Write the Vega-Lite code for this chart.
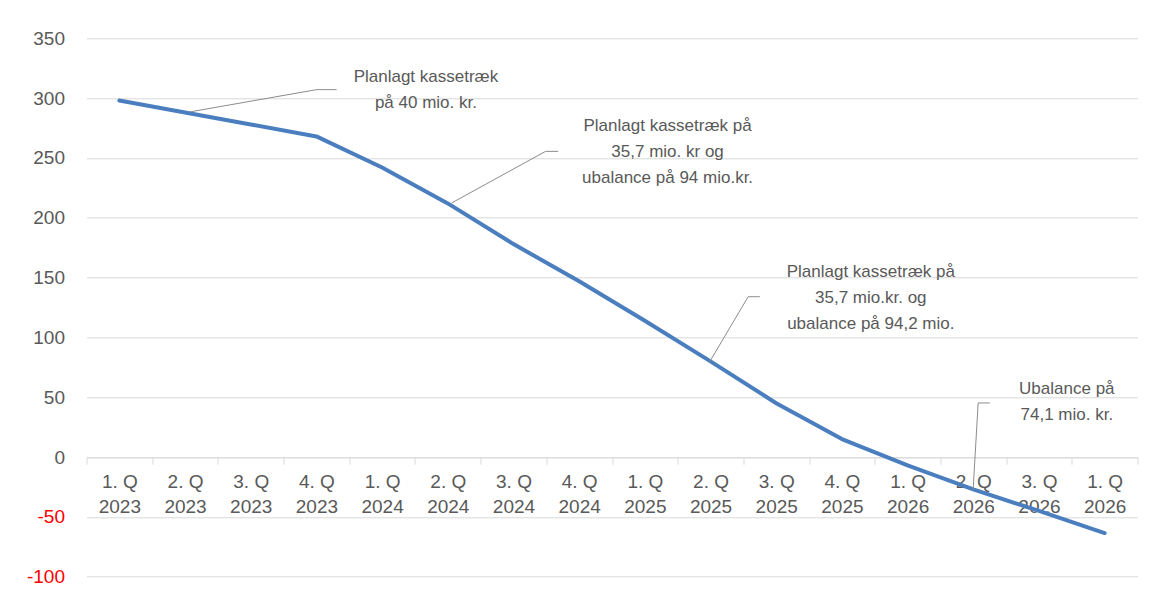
{
  "$schema": "https://vega.github.io/schema/vega-lite/v6.json",
  "autosize": "none",
  "width": 1051,
  "height": 538.4,
  "padding": {"left": 86.5, "top": 38.3, "right": 11.5, "bottom": 17.3},
  "background": "white",
  "config": {
    "view": {"stroke": null},
    "font": "Liberation Sans"
  },
  "datasets": {
    "series": [
      {"q": "1. Q|2023", "i": 0, "value": 298},
      {"q": "2. Q|2023", "i": 1, "value": 288},
      {"q": "3. Q|2023", "i": 2, "value": 278},
      {"q": "4. Q|2023", "i": 3, "value": 268},
      {"q": "1. Q|2024", "i": 4, "value": 242},
      {"q": "2. Q|2024", "i": 5, "value": 212},
      {"q": "3. Q|2024", "i": 6, "value": 178},
      {"q": "4. Q|2024", "i": 7, "value": 147},
      {"q": "1. Q|2025", "i": 8, "value": 114},
      {"q": "2. Q|2025", "i": 9, "value": 80},
      {"q": "3. Q|2025", "i": 10, "value": 45},
      {"q": "4. Q|2025", "i": 11, "value": 15},
      {"q": "1. Q|2026", "i": 12, "value": -7},
      {"q": "2. Q|2026", "i": 13, "value": -27},
      {"q": "3. Q|2026", "i": 14, "value": -45},
      {"q": "1. Q|2026 ", "i": 15, "value": -63.5}
    ],
    "leaders": [
      {"id": 1, "seq": 0, "u": 1.575, "v": 288.5},
      {"id": 1, "seq": 1, "u": 3.504, "v": 307.1},
      {"id": 1, "seq": 2, "u": 3.808, "v": 307.1},
      {"id": 2, "seq": 0, "u": 5.559, "v": 212.4},
      {"id": 2, "seq": 1, "u": 6.989, "v": 255.5},
      {"id": 2, "seq": 2, "u": 7.181, "v": 255.5},
      {"id": 3, "seq": 0, "u": 9.49, "v": 79.9},
      {"id": 3, "seq": 1, "u": 10.073, "v": 134.0},
      {"id": 3, "seq": 2, "u": 10.251, "v": 134.0},
      {"id": 4, "seq": 0, "u": 13.498, "v": -27.2},
      {"id": 4, "seq": 1, "u": 13.574, "v": 45.2},
      {"id": 4, "seq": 2, "u": 13.752, "v": 45.2}
    ],
    "notes": [
      {"u": 5.167, "v": 318.0, "text": ["Planlagt kassetræk", "på 40 mio. kr."]},
      {"u": 8.846, "v": 277.0, "text": ["Planlagt kassetræk på", "35,7 mio. kr og", "ubalance på 94 mio.kr."]},
      {"u": 11.94, "v": 154.5, "text": ["Planlagt kassetræk på", "35,7 mio.kr. og", "ubalance på 94,2 mio."]},
      {"u": 14.924, "v": 56.7, "text": ["Ubalance på", "74,1 mio. kr."]}
    ]
  },
  "layer": [
    {
      "data": {"name": "series"},
      "mark": {"type": "line", "color": "#4a7ebf", "strokeWidth": 4, "strokeCap": "round", "strokeJoin": "round"},
      "encoding": {
        "x": {
          "field": "q",
          "type": "ordinal",
          "sort": {"field": "i"},
          "bandPosition": 0.5,
          "scale": {"type": "band", "paddingInner": 0, "paddingOuter": 0},
          "axis": {
            "title": null,
            "orient": "bottom",
            "offset": -119.4,
            "tickBand": "extent",
            "grid": false,
            "domainColor": "#d9d9d9",
            "domainWidth": 1,
            "tickColor": "#d9d9d9",
            "tickSize": 7,
            "labelAngle": 0,
            "labelExpr": "split(datum.label, '|')",
            "labelFont": "Liberation Sans",
            "labelFontSize": 19,
            "labelColor": "#595959",
            "labelPadding": 8,
            "labelLineHeight": 25.5,
            "labelBaseline": "top"
          }
        },
        "y": {
          "field": "value",
          "type": "quantitative",
          "scale": {"domain": [-100, 350], "nice": false, "zero": false},
          "axis": {
            "title": null,
            "values": [-100, -50, 0, 50, 100, 150, 200, 250, 300, 350],
            "labelExpr": "'' + datum.value",
            "domain": false,
            "ticks": false,
            "grid": true,
            "gridColor": "#d9d9d9",
            "gridWidth": 1,
            "labelFont": "Liberation Sans",
            "labelFontSize": 19,
            "labelPadding": 22,
            "labelColor": {"condition": {"test": "datum.value < 0", "value": "#ff0000"}, "value": "#595959"}
          }
        }
      }
    },
    {
      "data": {"name": "leaders"},
      "mark": {"type": "line", "color": "#8c8c8c", "strokeWidth": 1},
      "encoding": {
        "x": {"field": "u", "type": "quantitative", "scale": {"domain": [0, 16], "nice": false, "zero": false}, "axis": null},
        "y": {"field": "v", "type": "quantitative"},
        "detail": {"field": "id"},
        "order": {"field": "seq"}
      }
    },
    {
      "data": {"name": "notes"},
      "mark": {"type": "text", "align": "center", "baseline": "middle", "fontSize": 17, "lineHeight": 26, "color": "#595959", "font": "Liberation Sans"},
      "encoding": {
        "x": {"field": "u", "type": "quantitative", "scale": {"domain": [0, 16], "nice": false, "zero": false}, "axis": null},
        "y": {"field": "v", "type": "quantitative"},
        "text": {"field": "text"}
      }
    }
  ],
  "resolve": {"scale": {"x": "independent"}}
}
